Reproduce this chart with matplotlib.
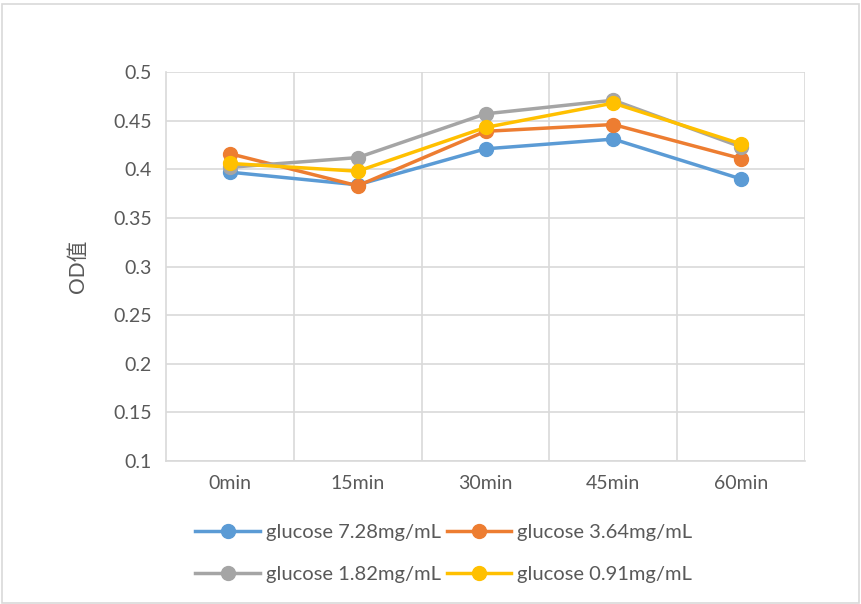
import matplotlib

matplotlib.use("Agg")
import matplotlib.pyplot as plt
from matplotlib.patches import Rectangle
from matplotlib.ticker import FixedLocator

plt.rcParams["font.family"] = ["Lato", "Noto Sans CJK SC", "DejaVu Sans"]

categories = ["0min", "15min", "30min", "45min", "60min"]
series_names = [
    "glucose 7.28mg/mL",
    "glucose 3.64mg/mL",
    "glucose 1.82mg/mL",
    "glucose 0.91mg/mL",
]
glucose_728 = [0.397, 0.384, 0.421, 0.431, 0.390]
glucose_364 = [0.416, 0.383, 0.439, 0.446, 0.411]
glucose_182 = [0.402, 0.412, 0.457, 0.471, 0.423]
glucose_091 = [0.406, 0.398, 0.443, 0.468, 0.426]
yticks = [0.1, 0.15, 0.2, 0.25, 0.3, 0.35, 0.4, 0.45, 0.5]

colors = ["#5b9bd5", "#ed7d31", "#a5a5a5", "#ffc000"]
text_color = "#595959"
grid_color = "#d9d9d9"

fig = plt.figure(figsize=(8.61, 6.04), dpi=100)
ax = fig.add_axes([166 / 861, 1 - 461 / 604, 639 / 861, 389 / 604])

x = list(range(len(categories)))
handles = []
for vals, name, c in zip([glucose_728, glucose_364, glucose_182, glucose_091],
                         series_names, colors):
    (h,) = ax.plot(x, vals, color=c, linewidth=2.5, marker="o", markersize=10,
                   label=name, zorder=3)
    handles.append(h)

ax.set_xlim(-0.5, len(categories) - 0.5)
ax.set_ylim(0.1, 0.5)
ax.set_yticks(yticks)
ax.set_yticklabels([f"{t:g}" for t in yticks])
ax.set_xticks(x)
ax.set_xticklabels(categories)
ax.xaxis.set_minor_locator(FixedLocator([i + 0.5 for i in range(len(categories))]))
ax.grid(True, axis="y", which="major", color=grid_color, linewidth=1.2)
ax.grid(True, axis="x", which="minor", color=grid_color, linewidth=1.2)
ax.tick_params(axis="both", which="both", length=0, labelsize=14,
               labelcolor=text_color, pad=10)
for side in ["top", "right"]:
    ax.spines[side].set_visible(False)
for side in ["left", "bottom"]:
    ax.spines[side].set_color(grid_color)
    ax.spines[side].set_linewidth(1.2)
ax.set_axisbelow(True)

ax.set_ylabel("OD值", fontsize=15, color=text_color, labelpad=18)

# row-wise order: 7.28, 3.64 / 1.82, 0.91
order = [0, 2, 1, 3]
ax.legend([handles[i] for i in order], [series_names[i] for i in order],
          loc="upper center", bbox_to_anchor=(0.435, -0.115), ncol=2,
          frameon=False, fontsize=14.5, labelcolor=text_color, handlelength=3.2,
          handletextpad=0.3, columnspacing=0.3, labelspacing=1.25)

fig.patches.append(Rectangle((0.002, 0.002), 0.996, 0.992, transform=fig.transFigure,
                             fill=False, edgecolor=grid_color, linewidth=1.2))

fig.savefig("out.png", dpi=100)
